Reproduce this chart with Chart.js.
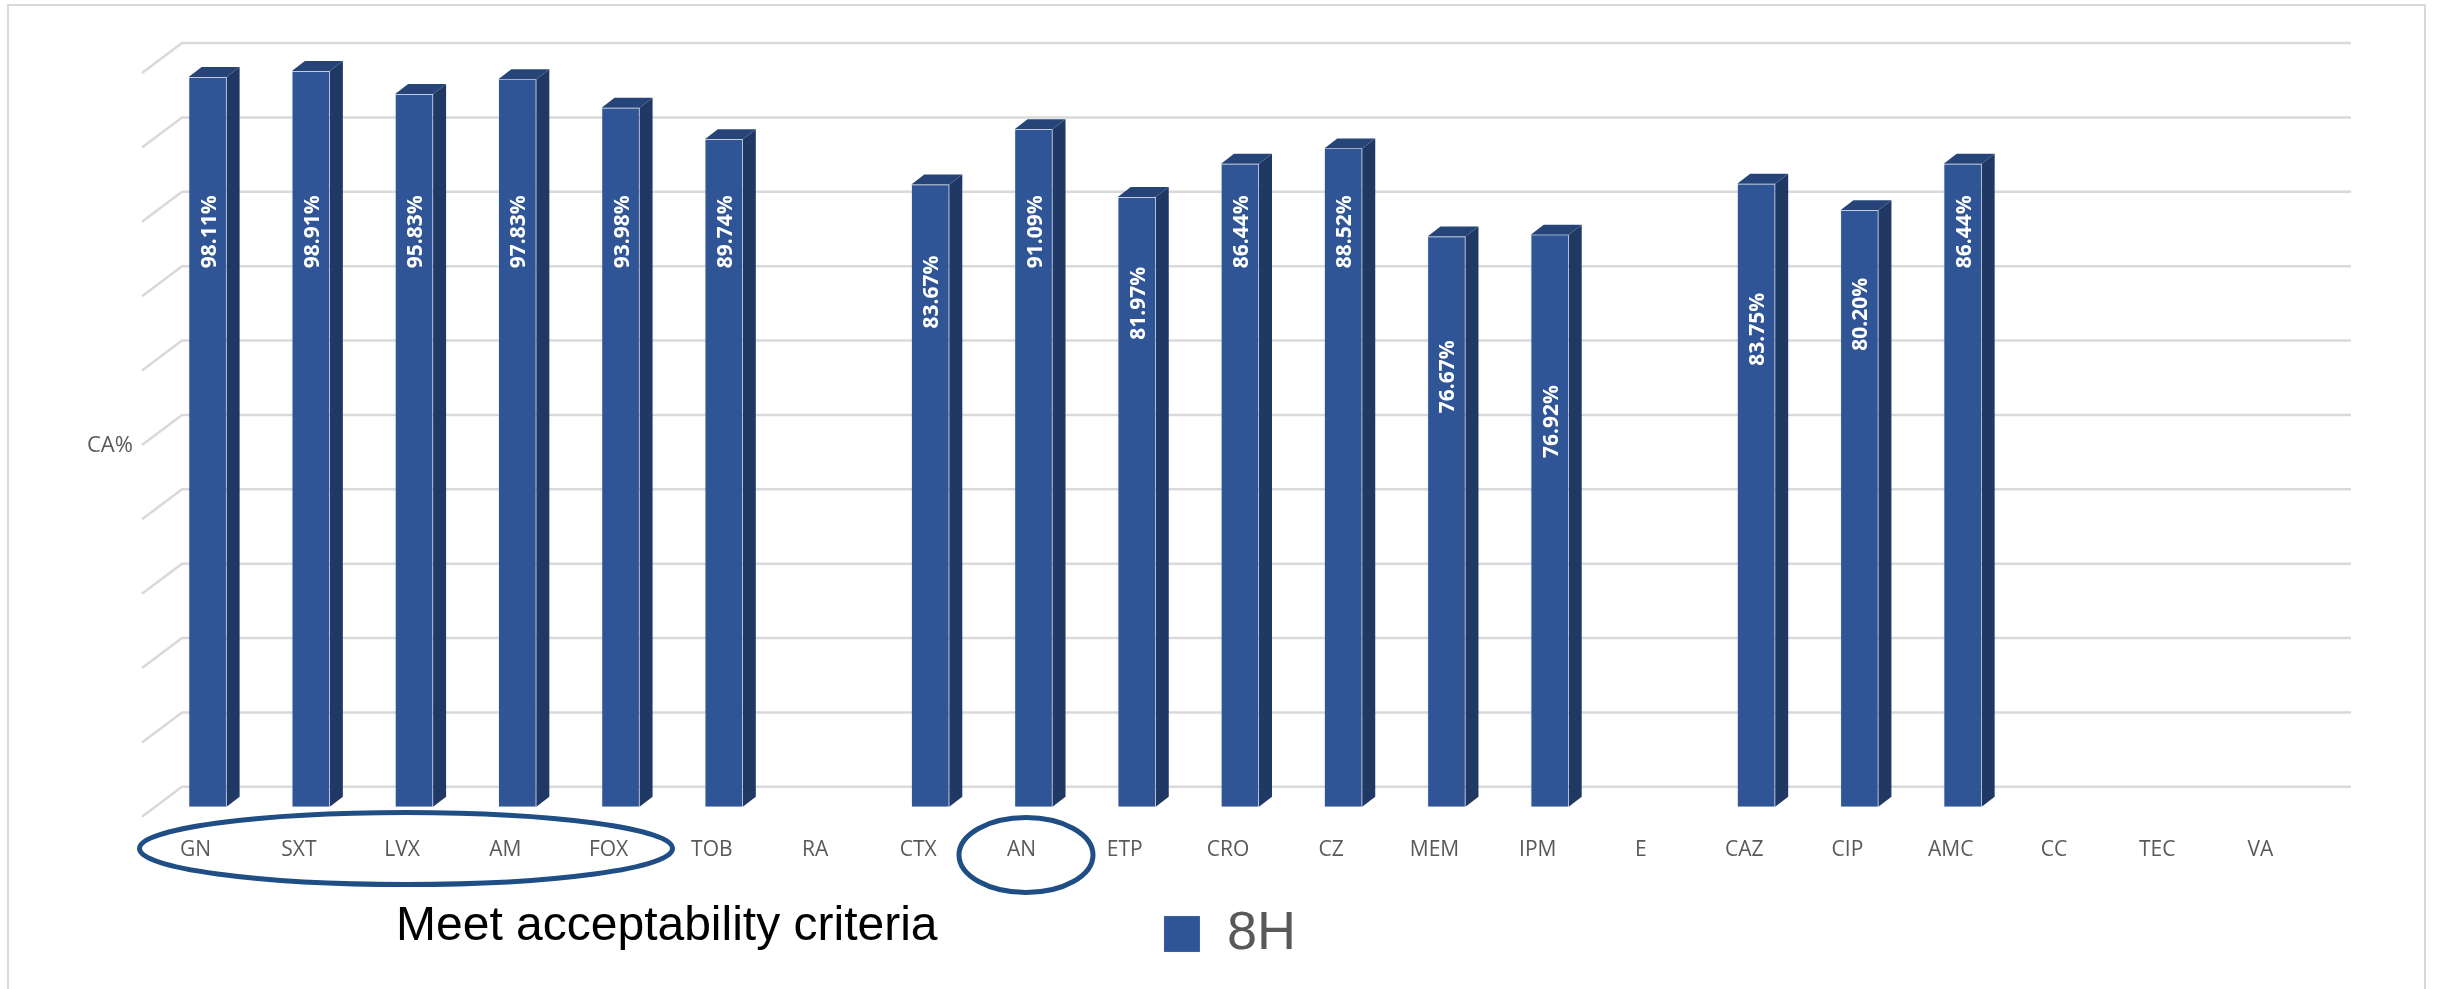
<!DOCTYPE html>
<html>
<head>
<meta charset="utf-8">
<title>CA% 8H</title>
<script src="https://cdn.jsdelivr.net/npm/chart.js@4"></script>
<style>
    body { margin: 0; background: #fff; }
    canvas { display: block; }
</style>
</head>
<body>
<canvas id="myChart" width="2438" height="989"></canvas>
<script>
const categories = ["GN", "SXT", "LVX", "AM", "FOX", "TOB", "RA", "CTX", "AN", "ETP", "CRO", "CZ", "MEM", "IPM", "E", "CAZ", "CIP", "AMC", "CC", "TEC", "VA"];
const values8H = [98.11, 98.91, 95.83, 97.83, 93.98, 89.74, null, 83.67, 91.09, 81.97, 86.44, 88.52, 76.67, 76.92, null, 83.75, 80.20, 86.44, null, null, null];

// where each rotated value label sits, in axis units
const labelLevels = [77.3, 77.3, 77.3, 77.3, 77.3, 77.3, null, 69.2, 77.3, 67.7, 77.3, 77.3, 57.8, 51.8, null, 64.2, 66.2, 77.3, null, null, null];

const faceColor = "#2F5597";
const sideColor = "#203864";
const topColor = "#264478";
const gridColor = "#D9D9D9";
const textColor = "#595959";
const ringColor = "#1F4E85";

// depth of the fake 3D box and of the bars standing in it
const wallDx = 26, wallUp = 20, floorDx = 14, floorDown = 10, wallRight = 27;
const barDx = 13, barDy = 10;

function fillPoly(ctx, color, pts) {
    ctx.fillStyle = color;
    ctx.beginPath();
    ctx.moveTo(pts[0][0], pts[0][1]);
    for (let i = 1; i < pts.length; i++) {
        ctx.lineTo(pts[i][0], pts[i][1]);
    }
    ctx.closePath();
    ctx.fill();
}

const box3d = {
    id: "box3d",
    beforeDraw(chart) {
        const ctx = chart.ctx;
        ctx.save();
        ctx.strokeStyle = gridColor;
        ctx.lineWidth = 2;
        ctx.strokeRect(8, 5, 2417, 1100);
        ctx.restore();
    },
    afterLayout(chart) {
        // nudge the legend so the swatch lands under the gap after AN
        chart.legend.left -= 10;
        chart.legend.right -= 10;
    },
    beforeDatasetsDraw(chart) {
        const ctx = chart.ctx;
        const area = chart.chartArea;
        const y = chart.scales.y;
        ctx.save();
        ctx.strokeStyle = gridColor;
        ctx.lineWidth = 2.5;
        y.ticks.forEach(function (t) {
            const py = y.getPixelForValue(t.value);
            ctx.beginPath();
            ctx.moveTo(area.left - floorDx, py + floorDown);
            ctx.lineTo(area.left + wallDx, py - wallUp);
            ctx.lineTo(area.right + wallRight, py - wallUp);
            ctx.stroke();
        });
        chart.getDatasetMeta(0).data.forEach(function (bar, i) {
            if (values8H[i] === null) {
                return;
            }
            const r = bar.x + bar.width / 2;
            const l = bar.x - bar.width / 2;
            fillPoly(ctx, sideColor, [[r, bar.y], [r + barDx, bar.y - barDy], [r + barDx, bar.base - barDy], [r, bar.base]]);
            fillPoly(ctx, topColor, [[l, bar.y], [l + barDx, bar.y - barDy], [r + barDx, bar.y - barDy], [r, bar.y]]);
        });
        ctx.restore();
    },
    afterDatasetsDraw(chart) {
        const ctx = chart.ctx;
        const y = chart.scales.y;
        ctx.save();
        ctx.fillStyle = "#fff";
        ctx.font = "700 21px 'Open Sans'";
        ctx.textAlign = "center";
        ctx.textBaseline = "middle";
        chart.getDatasetMeta(0).data.forEach(function (bar, i) {
            if (values8H[i] === null) {
                return;
            }
            ctx.save();
            ctx.translate(bar.x, y.getPixelForValue(labelLevels[i]));
            ctx.rotate(-Math.PI / 2);
            ctx.fillText(values8H[i].toFixed(2) + "%", 0, 2);
            ctx.restore();
        });
        ctx.restore();
    },
    afterDraw(chart) {
        const ctx = chart.ctx;
        ctx.save();
        ctx.fillStyle = textColor;
        ctx.font = "22px 'Open Sans'";
        ctx.textBaseline = "middle";
        ctx.fillText("CA%", 87, 446);

        ctx.fillStyle = "#000";
        ctx.font = "48px 'Liberation Sans'";
        ctx.textBaseline = "alphabetic";
        ctx.fillText("Meet acceptability criteria", 396, 940);

        // rings around the drugs that pass
        ctx.strokeStyle = ringColor;
        ctx.lineWidth = 5;
        ctx.beginPath();
        ctx.ellipse(406, 848.5, 266.5, 36, 0, 0, Math.PI * 2);
        ctx.stroke();
        ctx.beginPath();
        ctx.ellipse(1026, 855, 67, 37.5, 0, 0, Math.PI * 2);
        ctx.stroke();
        ctx.restore();
    }
};

Chart.defaults.font.family = "'Open Sans'";

new Chart("myChart", {
    type: "bar",
    data: {
        labels: categories,
        datasets: [{
            label: "8H",
            data: values8H,
            backgroundColor: faceColor,
            borderColor: "rgba(190,200,222,0.2)",
            borderWidth: 1,
            barThickness: 38
        }]
    },
    plugins: [box3d],
    options: {
        responsive: false,
        animation: false,
        layout: {
            padding: { left: 156, right: 114, top: 63, bottom: 18 }
        },
        scales: {
            x: {
                grid: { display: false, drawTicks: false },
                border: { display: false },
                ticks: {
                    color: textColor,
                    font: { size: 21 },
                    padding: 31,
                    labelOffset: -12,
                    maxRotation: 0,
                    autoSkip: false
                }
            },
            y: {
                min: 0,
                max: 100,
                grid: { display: false, drawTicks: false },
                border: { display: false },
                ticks: { display: false, stepSize: 10 }
            }
        },
        plugins: {
            tooltip: { enabled: false },
            legend: {
                position: "bottom",
                labels: {
                    boxWidth: 36,
                    boxHeight: 36,
                    padding: 13,
                    color: textColor,
                    font: { family: "'Liberation Sans'", size: 54 }
                }
            }
        }
    }
});
</script>
</body>
</html>
